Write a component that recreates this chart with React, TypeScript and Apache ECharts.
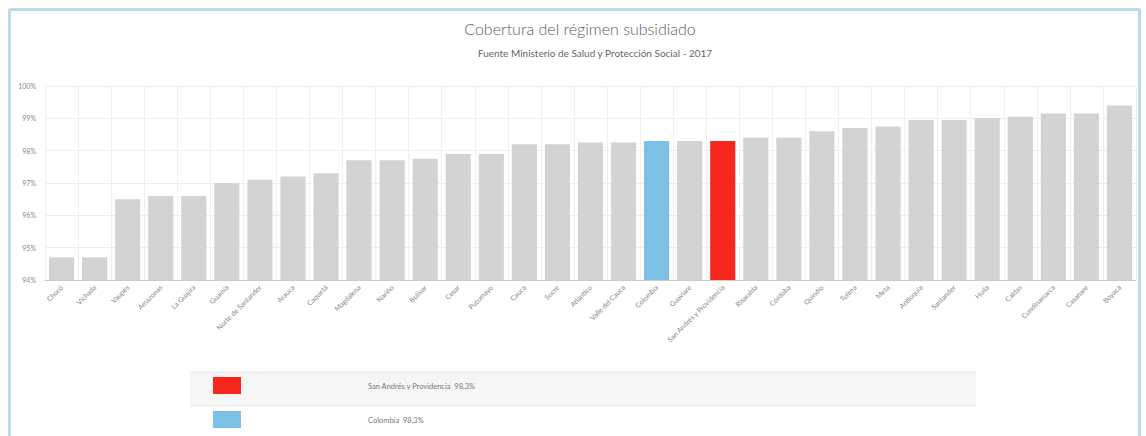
import React, { useEffect, useRef } from "react";
import * as echarts from "echarts";

const categories = [
  "Chocó", "Vichada", "Vaupés", "Amazonas", "La Guajira", "Guainía",
  "Norte de Santander", "Arauca", "Caquetá", "Magdalena", "Nariño", "Bolívar",
  "Cesar", "Putumayo", "Cauca", "Sucre", "Atlántico", "Valle del Cauca",
  "Colombia", "Guaviare", "San Andrés y Providencia", "Risaralda", "Córdoba",
  "Quindío", "Tolima", "Meta", "Antioquia", "Santander", "Huila", "Caldas",
  "Cundinamarca", "Casanare", "Boyacá",
];

const coverage = [
  94.7, 94.7, 96.5, 96.6, 96.6, 97.0, 97.1, 97.2, 97.3, 97.7, 97.7, 97.75,
  97.9, 97.9, 98.2, 98.2, 98.25, 98.25, 98.3, 98.3, 98.3, 98.4, 98.4,
  98.6, 98.7, 98.75, 98.95, 98.95, 99.0, 99.05, 99.15, 99.15, 99.4,
];

const highlights = [
  { name: "San Andrés y Providencia", color: "#f5271c", shown: 98.3 },
  { name: "Colombia", color: "#7cc0e6", shown: 98.3 },
];

const yTicks = [94, 95, 96, 97, 98, 99, 100];

const defaultColor = "#d3d3d3";

export default function App() {
  const ref = useRef<HTMLDivElement>(null);

  useEffect(() => {
    if (!ref.current) return;
    const chart = echarts.init(ref.current, undefined, { renderer: "svg" });
    const font = "Lato, 'Open Sans', sans-serif";

    const data = coverage.map((v, i) => {
      const h = highlights.find((x) => x.name === categories[i]);
      return { value: v, itemStyle: { color: h ? h.color : defaultColor } };
    });

    const legendGraphics: any[] = [];
    const rowTop = 372;
    const rowH = 34;
    highlights.forEach((h, i) => {
      const y = rowTop + i * rowH;
      legendGraphics.push({
        type: "rect",
        shape: { x: 190, y, width: 786, height: rowH },
        style: { fill: i % 2 === 0 ? "#f6f6f6" : "#ffffff" },
        silent: true,
      });
      legendGraphics.push({
        type: "line",
        shape: { x1: 190, y1: y, x2: 976, y2: y },
        style: { stroke: "#e8e8e8", lineWidth: 1 },
        silent: true,
      });
      legendGraphics.push({
        type: "rect",
        shape: { x: 213, y: y + 5, width: 28, height: 17 },
        style: { fill: h.color },
        silent: true,
      });
      legendGraphics.push({
        type: "text",
        x: 368,
        y: y + 14,
        style: {
          text: `${h.name}  ${h.shown.toFixed(1).replace(".", ",")}%`,
          fill: "#777",
          fontSize: 7.5,
          fontFamily: font,
          verticalAlign: "middle",
        },
        silent: true,
      });
    });

    chart.setOption({
      animation: false,
      backgroundColor: "#ffffff",
      graphic: [
        {
          type: "text",
          x: 580,
          y: 28,
          style: {
            text: "Cobertura del régimen subsidiado",
            fill: "#5a5a5a",
            fontSize: 16,
            fontWeight: 300,
            fontFamily: font,
            textAlign: "center",
            verticalAlign: "middle",
          },
        },
        {
          type: "text",
          x: 595,
          y: 53,
          style: {
            text: "Fuente Ministerio de Salud y Protección Social - 2017",
            fill: "#666",
            fontSize: 10,
            fontFamily: font,
            textAlign: "center",
            verticalAlign: "middle",
          },
        },
        ...legendGraphics,
      ],
      grid: { left: 45, right: 10, top: 86, bottom: 156, containLabel: false },
      xAxis: {
        type: "category",
        data: categories,
        axisLine: { show: true, lineStyle: { color: "#cccccc" } },
        axisTick: { show: false },
        splitLine: { show: true, lineStyle: { color: "#f0f0f0" } },
        axisLabel: {
          rotate: 45,
          interval: 0,
          fontSize: 7,
          color: "#888",
          fontFamily: font,
          margin: 6,
        },
      },
      yAxis: {
        type: "value",
        min: yTicks[0],
        max: yTicks[yTicks.length - 1],
        interval: 1,
        axisLine: { show: false },
        axisTick: { show: false },
        splitLine: { show: true, lineStyle: { color: "#eeeeee" } },
        axisLabel: {
          formatter: (v: number) => `${v}%`,
          fontSize: 7,
          color: "#888",
          fontFamily: font,
          margin: 9,
        },
      },
      series: [
        {
          type: "bar",
          data,
          barCategoryGap: "24%",
          silent: true,
        },
      ],
    });

    return () => chart.dispose();
  }, []);

  return (
    <div style={{ position: "fixed", left: 0, top: 0, width: 1146, height: 436, overflow: "hidden", background: "#fff" }}>
      <div ref={ref} style={{ position: "absolute", left: 0, top: 0, width: 1146, height: 436 }} />
      <div
        style={{
          position: "absolute",
          left: 8,
          top: 8,
          width: 1133,
          height: 460,
          border: "3px solid #b8dcea",
          borderRadius: 3,
          boxSizing: "border-box",
          pointerEvents: "none",
        }}
      />
    </div>
  );
}
